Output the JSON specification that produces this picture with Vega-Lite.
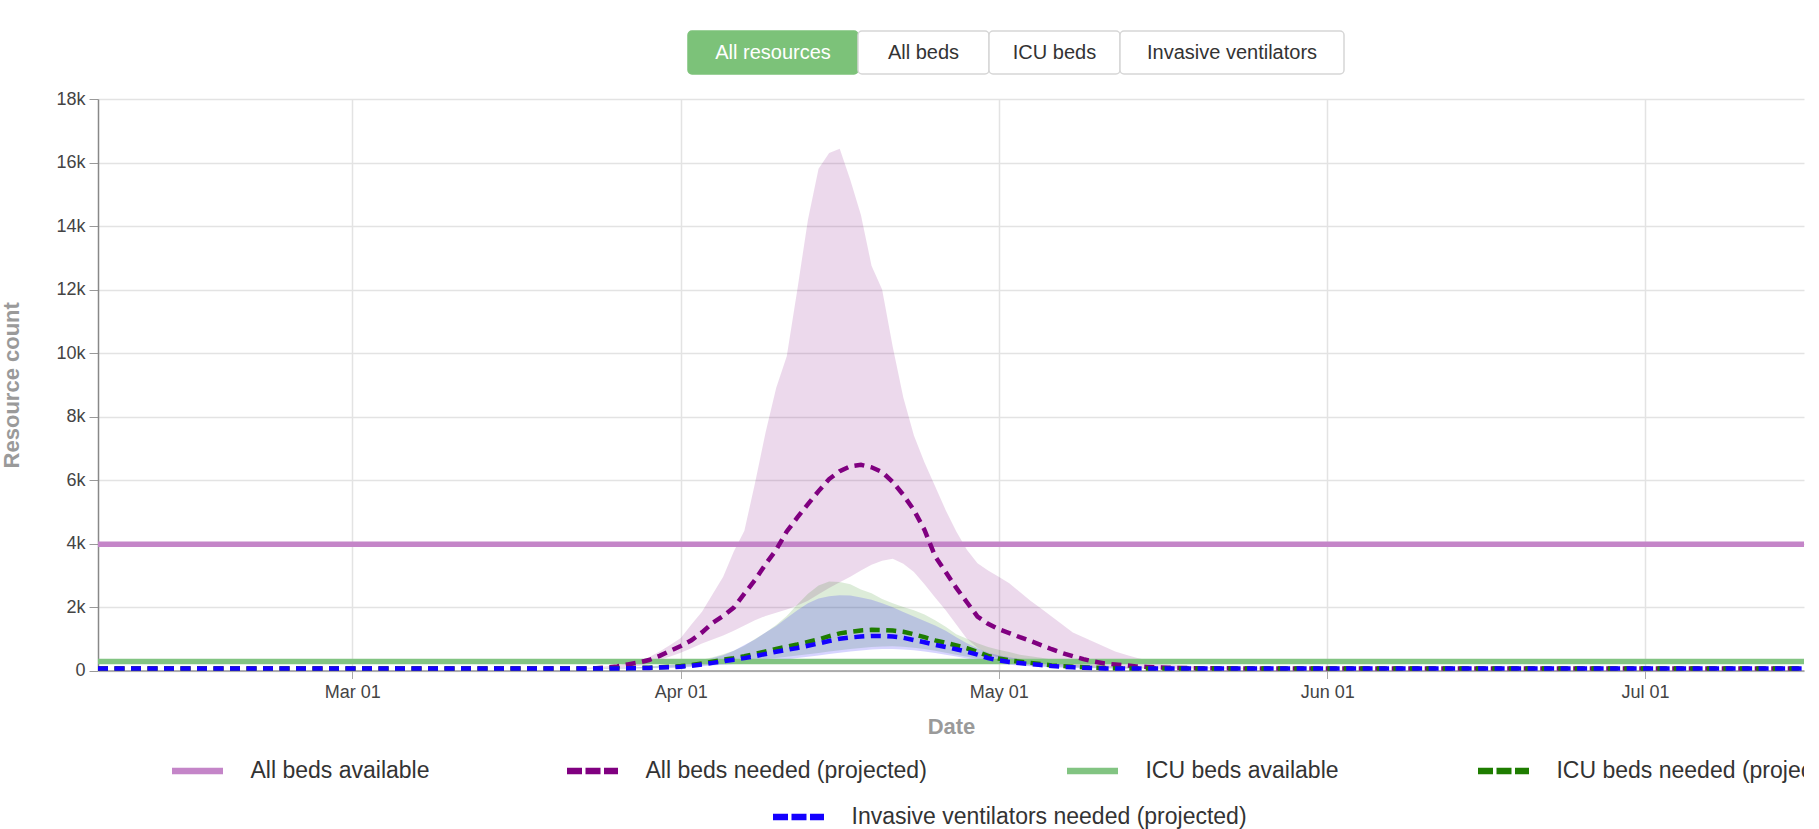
{
  "$schema": "https://vega.github.io/schema/vega-lite/v6.json",
  "padding": {"top": 30, "left": 0, "right": 0, "bottom": 0},
  "spacing": 15,
  "config": {
    "font": "Liberation Sans",
    "view": {"stroke": null}
  },
  "resolve": {"scale": {"fill": "independent", "stroke": "independent", "color": "independent", "strokeDash": "independent", "x": "independent"}},
  "datasets": {
    "buttons": [
      {"button": "All resources"},
      {"button": "All beds"},
      {"button": "ICU beds"},
      {"button": "Invasive ventilators"}
    ],
    "capacity": [
      {"resource": "All beds available", "count": 3980},
      {"resource": "ICU beds available", "count": 285}
    ],
    "legend1": [
      {"label": "All beds available"},
      {"label": "All beds needed (projected)"},
      {"label": "ICU beds available"},
      {"label": "ICU beds needed (projected)"}
    ],
    "legend2": [
      {"label": "Invasive ventilators needed (projected)"}
    ],
    "projection": [
      {"date": "2020-02-06", "beds_lo": 60, "beds_mean": 60, "beds_hi": 60, "icu_lo": 60, "icu_mean": 60, "icu_hi": 60, "vent_lo": 60, "vent_mean": 60, "vent_hi": 60},
      {"date": "2020-03-15", "beds_lo": 60, "beds_mean": 60, "beds_hi": 60, "icu_lo": 60, "icu_mean": 60, "icu_hi": 60, "vent_lo": 60, "vent_mean": 60, "vent_hi": 60},
      {"date": "2020-03-22", "beds_lo": 60, "beds_mean": 60, "beds_hi": 65, "icu_lo": 60, "icu_mean": 60, "icu_hi": 62, "vent_lo": 60, "vent_mean": 60, "vent_hi": 60},
      {"date": "2020-03-24", "beds_lo": 60, "beds_mean": 70, "beds_hi": 100, "icu_lo": 60, "icu_mean": 62, "icu_hi": 70, "vent_lo": 60, "vent_mean": 60, "vent_hi": 65},
      {"date": "2020-03-25", "beds_lo": 65, "beds_mean": 90, "beds_hi": 130, "icu_lo": 62, "icu_mean": 65, "icu_hi": 75, "vent_lo": 60, "vent_mean": 62, "vent_hi": 70},
      {"date": "2020-03-26", "beds_lo": 75, "beds_mean": 130, "beds_hi": 170, "icu_lo": 64, "icu_mean": 68, "icu_hi": 85, "vent_lo": 62, "vent_mean": 64, "vent_hi": 75},
      {"date": "2020-03-27", "beds_lo": 100, "beds_mean": 190, "beds_hi": 240, "icu_lo": 66, "icu_mean": 72, "icu_hi": 95, "vent_lo": 63, "vent_mean": 67, "vent_hi": 85},
      {"date": "2020-03-28", "beds_lo": 140, "beds_mean": 250, "beds_hi": 300, "icu_lo": 70, "icu_mean": 80, "icu_hi": 110, "vent_lo": 65, "vent_mean": 72, "vent_hi": 100},
      {"date": "2020-03-29", "beds_lo": 200, "beds_mean": 330, "beds_hi": 420, "icu_lo": 75, "icu_mean": 90, "icu_hi": 130, "vent_lo": 68, "vent_mean": 80, "vent_hi": 120},
      {"date": "2020-03-30", "beds_lo": 330, "beds_mean": 460, "beds_hi": 600, "icu_lo": 85, "icu_mean": 105, "icu_hi": 160, "vent_lo": 72, "vent_mean": 92, "vent_hi": 145},
      {"date": "2020-03-31", "beds_lo": 440, "beds_mean": 620, "beds_hi": 800, "icu_lo": 95, "icu_mean": 120, "icu_hi": 195, "vent_lo": 80, "vent_mean": 105, "vent_hi": 170},
      {"date": "2020-04-01", "beds_lo": 560, "beds_mean": 770, "beds_hi": 1020, "icu_lo": 110, "icu_mean": 140, "icu_hi": 230, "vent_lo": 90, "vent_mean": 120, "vent_hi": 200},
      {"date": "2020-04-02", "beds_lo": 700, "beds_mean": 950, "beds_hi": 1450, "icu_lo": 130, "icu_mean": 170, "icu_hi": 290, "vent_lo": 110, "vent_mean": 150, "vent_hi": 250},
      {"date": "2020-04-03", "beds_lo": 850, "beds_mean": 1200, "beds_hi": 1850, "icu_lo": 160, "icu_mean": 220, "icu_hi": 340, "vent_lo": 130, "vent_mean": 190, "vent_hi": 300},
      {"date": "2020-04-04", "beds_lo": 980, "beds_mean": 1500, "beds_hi": 2400, "icu_lo": 190, "icu_mean": 280, "icu_hi": 420, "vent_lo": 155, "vent_mean": 240, "vent_hi": 390},
      {"date": "2020-04-05", "beds_lo": 1100, "beds_mean": 1720, "beds_hi": 2950, "icu_lo": 230, "icu_mean": 340, "icu_hi": 510, "vent_lo": 180, "vent_mean": 290, "vent_hi": 480},
      {"date": "2020-04-06", "beds_lo": 1250, "beds_mean": 1980, "beds_hi": 3750, "icu_lo": 260, "icu_mean": 390, "icu_hi": 620, "vent_lo": 205, "vent_mean": 340, "vent_hi": 620},
      {"date": "2020-04-07", "beds_lo": 1420, "beds_mean": 2420, "beds_hi": 4400, "icu_lo": 290, "icu_mean": 450, "icu_hi": 780, "vent_lo": 230, "vent_mean": 390, "vent_hi": 800},
      {"date": "2020-04-08", "beds_lo": 1580, "beds_mean": 2850, "beds_hi": 5900, "icu_lo": 325, "icu_mean": 520, "icu_hi": 990, "vent_lo": 260, "vent_mean": 450, "vent_hi": 980},
      {"date": "2020-04-09", "beds_lo": 1720, "beds_mean": 3350, "beds_hi": 7500, "icu_lo": 360, "icu_mean": 600, "icu_hi": 1200, "vent_lo": 290, "vent_mean": 520, "vent_hi": 1200},
      {"date": "2020-04-10", "beds_lo": 1820, "beds_mean": 3800, "beds_hi": 8900, "icu_lo": 395, "icu_mean": 680, "icu_hi": 1430, "vent_lo": 320, "vent_mean": 590, "vent_hi": 1400},
      {"date": "2020-04-11", "beds_lo": 1920, "beds_mean": 4380, "beds_hi": 9900, "icu_lo": 430, "icu_mean": 750, "icu_hi": 1720, "vent_lo": 350, "vent_mean": 650, "vent_hi": 1650},
      {"date": "2020-04-12", "beds_lo": 2050, "beds_mean": 4820, "beds_hi": 12000, "icu_lo": 470, "icu_mean": 820, "icu_hi": 2080, "vent_lo": 390, "vent_mean": 710, "vent_hi": 1900},
      {"date": "2020-04-13", "beds_lo": 2200, "beds_mean": 5240, "beds_hi": 14200, "icu_lo": 510, "icu_mean": 900, "icu_hi": 2420, "vent_lo": 430, "vent_mean": 780, "vent_hi": 2120},
      {"date": "2020-04-14", "beds_lo": 2400, "beds_mean": 5650, "beds_hi": 15800, "icu_lo": 555, "icu_mean": 980, "icu_hi": 2680, "vent_lo": 475, "vent_mean": 850, "vent_hi": 2270},
      {"date": "2020-04-15", "beds_lo": 2600, "beds_mean": 6030, "beds_hi": 16300, "icu_lo": 600, "icu_mean": 1080, "icu_hi": 2800, "vent_lo": 520, "vent_mean": 930, "vent_hi": 2340},
      {"date": "2020-04-16", "beds_lo": 2780, "beds_mean": 6280, "beds_hi": 16430, "icu_lo": 640, "icu_mean": 1170, "icu_hi": 2790, "vent_lo": 560, "vent_mean": 1000, "vent_hi": 2370},
      {"date": "2020-04-17", "beds_lo": 2950, "beds_mean": 6430, "beds_hi": 15450, "icu_lo": 680, "icu_mean": 1220, "icu_hi": 2720, "vent_lo": 600, "vent_mean": 1040, "vent_hi": 2360},
      {"date": "2020-04-18", "beds_lo": 3150, "beds_mean": 6480, "beds_hi": 14350, "icu_lo": 710, "icu_mean": 1260, "icu_hi": 2550, "vent_lo": 630, "vent_mean": 1070, "vent_hi": 2300},
      {"date": "2020-04-19", "beds_lo": 3330, "beds_mean": 6400, "beds_hi": 12750, "icu_lo": 740, "icu_mean": 1280, "icu_hi": 2430, "vent_lo": 660, "vent_mean": 1090, "vent_hi": 2230},
      {"date": "2020-04-20", "beds_lo": 3460, "beds_mean": 6250, "beds_hi": 12000, "icu_lo": 755, "icu_mean": 1275, "icu_hi": 2250, "vent_lo": 675, "vent_mean": 1085, "vent_hi": 2120},
      {"date": "2020-04-21", "beds_lo": 3520, "beds_mean": 5940, "beds_hi": 10200, "icu_lo": 760, "icu_mean": 1260, "icu_hi": 2120, "vent_lo": 680, "vent_mean": 1070, "vent_hi": 1990},
      {"date": "2020-04-22", "beds_lo": 3360, "beds_mean": 5530, "beds_hi": 8600, "icu_lo": 745, "icu_mean": 1220, "icu_hi": 2000, "vent_lo": 665, "vent_mean": 1030, "vent_hi": 1840},
      {"date": "2020-04-23", "beds_lo": 3100, "beds_mean": 5050, "beds_hi": 7400, "icu_lo": 720, "icu_mean": 1140, "icu_hi": 1900, "vent_lo": 640, "vent_mean": 960, "vent_hi": 1700},
      {"date": "2020-04-24", "beds_lo": 2720, "beds_mean": 4430, "beds_hi": 6550, "icu_lo": 680, "icu_mean": 1050, "icu_hi": 1760, "vent_lo": 600, "vent_mean": 890, "vent_hi": 1560},
      {"date": "2020-04-25", "beds_lo": 2300, "beds_mean": 3600, "beds_hi": 5800, "icu_lo": 620, "icu_mean": 950, "icu_hi": 1580, "vent_lo": 550, "vent_mean": 810, "vent_hi": 1420},
      {"date": "2020-04-26", "beds_lo": 1900, "beds_mean": 3100, "beds_hi": 5050, "icu_lo": 560, "icu_mean": 870, "icu_hi": 1380, "vent_lo": 495, "vent_mean": 740, "vent_hi": 1250},
      {"date": "2020-04-27", "beds_lo": 1450, "beds_mean": 2600, "beds_hi": 4380, "icu_lo": 500, "icu_mean": 790, "icu_hi": 1140, "vent_lo": 440, "vent_mean": 670, "vent_hi": 1050},
      {"date": "2020-04-28", "beds_lo": 1000, "beds_mean": 2150, "beds_hi": 3800, "icu_lo": 435, "icu_mean": 700, "icu_hi": 1000, "vent_lo": 380, "vent_mean": 590, "vent_hi": 860},
      {"date": "2020-04-29", "beds_lo": 720, "beds_mean": 1700, "beds_hi": 3380, "icu_lo": 370, "icu_mean": 590, "icu_hi": 860, "vent_lo": 320, "vent_mean": 500, "vent_hi": 700},
      {"date": "2020-04-30", "beds_lo": 520, "beds_mean": 1470, "beds_hi": 3150, "icu_lo": 310, "icu_mean": 460, "icu_hi": 740, "vent_lo": 270, "vent_mean": 390, "vent_hi": 560},
      {"date": "2020-05-01", "beds_lo": 400, "beds_mean": 1300, "beds_hi": 2950, "icu_lo": 260, "icu_mean": 380, "icu_hi": 650, "vent_lo": 220, "vent_mean": 320, "vent_hi": 480},
      {"date": "2020-05-02", "beds_lo": 340, "beds_mean": 1180, "beds_hi": 2750, "icu_lo": 220, "icu_mean": 320, "icu_hi": 580, "vent_lo": 185, "vent_mean": 270, "vent_hi": 420},
      {"date": "2020-05-03", "beds_lo": 280, "beds_mean": 1050, "beds_hi": 2470, "icu_lo": 180, "icu_mean": 280, "icu_hi": 500, "vent_lo": 150, "vent_mean": 235, "vent_hi": 360},
      {"date": "2020-05-04", "beds_lo": 240, "beds_mean": 930, "beds_hi": 2200, "icu_lo": 155, "icu_mean": 240, "icu_hi": 450, "vent_lo": 130, "vent_mean": 200, "vent_hi": 310},
      {"date": "2020-05-05", "beds_lo": 210, "beds_mean": 800, "beds_hi": 1950, "icu_lo": 135, "icu_mean": 200, "icu_hi": 400, "vent_lo": 115, "vent_mean": 170, "vent_hi": 270},
      {"date": "2020-05-06", "beds_lo": 180, "beds_mean": 670, "beds_hi": 1700, "icu_lo": 120, "icu_mean": 160, "icu_hi": 350, "vent_lo": 100, "vent_mean": 140, "vent_hi": 230},
      {"date": "2020-05-07", "beds_lo": 160, "beds_mean": 550, "beds_hi": 1450, "icu_lo": 105, "icu_mean": 140, "icu_hi": 300, "vent_lo": 90, "vent_mean": 120, "vent_hi": 200},
      {"date": "2020-05-08", "beds_lo": 140, "beds_mean": 450, "beds_hi": 1200, "icu_lo": 95, "icu_mean": 120, "icu_hi": 260, "vent_lo": 80, "vent_mean": 100, "vent_hi": 170},
      {"date": "2020-05-09", "beds_lo": 125, "beds_mean": 360, "beds_hi": 1050, "icu_lo": 85, "icu_mean": 100, "icu_hi": 220, "vent_lo": 72, "vent_mean": 85, "vent_hi": 140},
      {"date": "2020-05-10", "beds_lo": 110, "beds_mean": 280, "beds_hi": 900, "icu_lo": 78, "icu_mean": 85, "icu_hi": 190, "vent_lo": 68, "vent_mean": 75, "vent_hi": 120},
      {"date": "2020-05-11", "beds_lo": 100, "beds_mean": 220, "beds_hi": 750, "icu_lo": 72, "icu_mean": 75, "icu_hi": 160, "vent_lo": 64, "vent_mean": 65, "vent_hi": 100},
      {"date": "2020-05-12", "beds_lo": 90, "beds_mean": 190, "beds_hi": 600, "icu_lo": 68, "icu_mean": 70, "icu_hi": 135, "vent_lo": 62, "vent_mean": 62, "vent_hi": 88},
      {"date": "2020-05-13", "beds_lo": 82, "beds_mean": 160, "beds_hi": 500, "icu_lo": 65, "icu_mean": 66, "icu_hi": 115, "vent_lo": 60, "vent_mean": 60, "vent_hi": 80},
      {"date": "2020-05-14", "beds_lo": 76, "beds_mean": 130, "beds_hi": 400, "icu_lo": 62, "icu_mean": 63, "icu_hi": 100, "vent_lo": 60, "vent_mean": 60, "vent_hi": 72},
      {"date": "2020-05-15", "beds_lo": 72, "beds_mean": 110, "beds_hi": 320, "icu_lo": 61, "icu_mean": 62, "icu_hi": 88, "vent_lo": 60, "vent_mean": 60, "vent_hi": 66},
      {"date": "2020-05-16", "beds_lo": 68, "beds_mean": 95, "beds_hi": 260, "icu_lo": 60, "icu_mean": 61, "icu_hi": 78, "vent_lo": 60, "vent_mean": 60, "vent_hi": 62},
      {"date": "2020-05-17", "beds_lo": 65, "beds_mean": 85, "beds_hi": 200, "icu_lo": 60, "icu_mean": 60, "icu_hi": 70, "vent_lo": 60, "vent_mean": 60, "vent_hi": 60},
      {"date": "2020-05-19", "beds_lo": 62, "beds_mean": 75, "beds_hi": 140, "icu_lo": 60, "icu_mean": 60, "icu_hi": 64, "vent_lo": 60, "vent_mean": 60, "vent_hi": 60},
      {"date": "2020-05-21", "beds_lo": 60, "beds_mean": 70, "beds_hi": 100, "icu_lo": 60, "icu_mean": 60, "icu_hi": 60, "vent_lo": 60, "vent_mean": 60, "vent_hi": 60},
      {"date": "2020-05-26", "beds_lo": 60, "beds_mean": 62, "beds_hi": 70, "icu_lo": 60, "icu_mean": 60, "icu_hi": 60, "vent_lo": 60, "vent_mean": 60, "vent_hi": 60},
      {"date": "2020-06-01", "beds_lo": 60, "beds_mean": 60, "beds_hi": 60, "icu_lo": 60, "icu_mean": 60, "icu_hi": 60, "vent_lo": 60, "vent_mean": 60, "vent_hi": 60},
      {"date": "2020-07-16", "beds_lo": 60, "beds_mean": 60, "beds_hi": 60, "icu_lo": 60, "icu_mean": 60, "icu_hi": 60, "vent_lo": 60, "vent_mean": 60, "vent_hi": 60}
    ]
  },
  "vconcat": [
    {
      "width": 1706,
      "height": 43,
      "data": {"name": "buttons"},
      "resolve": {"scale": {"x": "independent"}},
      "layer": [
        {
          "transform": [{"filter": {"field": "button", "equal": "All resources"}}],
          "encoding": {
            "x": {"field": "button", "type": "nominal", "sort": null, "axis": null,
                  "scale": {"type": "band", "paddingInner": 0, "paddingOuter": 0, "range": [590, 760]}}
          },
          "layer": [
            {
              "mark": {"type": "rect", "cornerRadius": 4, "strokeWidth": 1.5},
              "encoding": {
                "fill": {"field": "button", "type": "nominal", "legend": null,
                         "scale": {"domain": ["All resources", "All beds", "ICU beds", "Invasive ventilators"], "range": ["#7cc279", "#ffffff", "#ffffff", "#ffffff"]}},
                "stroke": {"field": "button", "type": "nominal", "legend": null,
                           "scale": {"domain": ["All resources", "All beds", "ICU beds", "Invasive ventilators"], "range": ["#7cc279", "#d6d6d6", "#d6d6d6", "#d6d6d6"]}}
              }
            },
            {
              "mark": {"type": "text", "fontSize": 20},
              "encoding": {
                "text": {"field": "button"},
                "color": {"field": "button", "type": "nominal", "legend": null,
                          "scale": {"domain": ["All resources", "All beds", "ICU beds", "Invasive ventilators"], "range": ["#ffffff", "#333333", "#333333", "#333333"]}}
              }
            }
          ]
        },
        {
          "transform": [{"filter": {"field": "button", "oneOf": ["All beds", "ICU beds"]}}],
          "encoding": {
            "x": {"field": "button", "type": "nominal", "sort": null, "axis": null,
                  "scale": {"type": "band", "paddingInner": 0, "paddingOuter": 0, "range": [760, 1022]}}
          },
          "layer": [
            {
              "mark": {"type": "rect", "cornerRadius": 4, "strokeWidth": 1.5},
              "encoding": {
                "fill": {"field": "button", "type": "nominal", "legend": null,
                         "scale": {"domain": ["All resources", "All beds", "ICU beds", "Invasive ventilators"], "range": ["#7cc279", "#ffffff", "#ffffff", "#ffffff"]}},
                "stroke": {"field": "button", "type": "nominal", "legend": null,
                           "scale": {"domain": ["All resources", "All beds", "ICU beds", "Invasive ventilators"], "range": ["#7cc279", "#d6d6d6", "#d6d6d6", "#d6d6d6"]}}
              }
            },
            {
              "mark": {"type": "text", "fontSize": 20},
              "encoding": {
                "text": {"field": "button"},
                "color": {"field": "button", "type": "nominal", "legend": null,
                          "scale": {"domain": ["All resources", "All beds", "ICU beds", "Invasive ventilators"], "range": ["#ffffff", "#333333", "#333333", "#333333"]}}
              }
            }
          ]
        },
        {
          "transform": [{"filter": {"field": "button", "equal": "Invasive ventilators"}}],
          "encoding": {
            "x": {"field": "button", "type": "nominal", "sort": null, "axis": null,
                  "scale": {"type": "band", "paddingInner": 0, "paddingOuter": 0, "range": [1022, 1246]}}
          },
          "layer": [
            {
              "mark": {"type": "rect", "cornerRadius": 4, "strokeWidth": 1.5},
              "encoding": {
                "fill": {"field": "button", "type": "nominal", "legend": null,
                         "scale": {"domain": ["All resources", "All beds", "ICU beds", "Invasive ventilators"], "range": ["#7cc279", "#ffffff", "#ffffff", "#ffffff"]}},
                "stroke": {"field": "button", "type": "nominal", "legend": null,
                           "scale": {"domain": ["All resources", "All beds", "ICU beds", "Invasive ventilators"], "range": ["#7cc279", "#d6d6d6", "#d6d6d6", "#d6d6d6"]}}
              }
            },
            {
              "mark": {"type": "text", "fontSize": 20},
              "encoding": {
                "text": {"field": "button"},
                "color": {"field": "button", "type": "nominal", "legend": null,
                          "scale": {"domain": ["All resources", "All beds", "ICU beds", "Invasive ventilators"], "range": ["#ffffff", "#333333", "#333333", "#333333"]}}
              }
            }
          ]
        }
      ]
    },
    {
      "width": 1706,
      "height": 571.5,
      "layer": [
        {
          "data": {"name": "projection"},
          "mark": {"type": "area", "color": "#800080", "opacity": 0.15},
          "encoding": {
            "x": {"field": "date", "type": "temporal", "title": "Date",
                  "scale": {"type": "utc", "domain": [{"year": 2020, "month": 2, "date": 6, "utc": true}, {"year": 2020, "month": 7, "date": 16, "utc": true}]},
                  "axis": {"labelExpr": "utcFormat(datum.value, '%b %d')", "tickCount": {"interval": "month", "step": 1},
                           "labelFontSize": 18, "labelColor": "#444444", "labelPadding": 5, "labelFlush": false,
                           "tickSize": 8, "tickColor": "#aaaaaa", "domainColor": "#999999", "domainWidth": 1.5,
                           "gridColor": "#e3e3e3", "gridWidth": 1.5,
                           "titleFontSize": 22, "titleFontWeight": "bold", "titleColor": "#9a9a9a", "titlePadding": 15}},
            "y": {"field": "beds_lo", "type": "quantitative", "title": "Resource count",
                  "scale": {"domain": [0, 18000], "nice": false},
                  "axis": {"values": [0, 2000, 4000, 6000, 8000, 10000, 12000, 14000, 16000, 18000],
                           "labelExpr": "datum.value === 0 ? '0' : format(datum.value, '~s')",
                           "labelFontSize": 18, "labelColor": "#444444", "labelPadding": 4,
                           "tickSize": 9, "tickColor": "#999999", "domainColor": "#888888", "domainWidth": 1.5,
                           "gridColor": "#e3e3e3", "gridWidth": 1.5,
                           "titleFontSize": 22, "titleFontWeight": "bold", "titleColor": "#9a9a9a", "titlePadding": 32}},
            "y2": {"field": "beds_hi", "title": "Resource count"}
          }
        },
        {
          "data": {"name": "projection"},
          "mark": {"type": "area", "color": "#1e7d00", "opacity": 0.15},
          "encoding": {
            "x": {"field": "date", "type": "temporal", "title": "Date"},
            "y": {"field": "icu_lo", "type": "quantitative", "title": "Resource count"},
            "y2": {"field": "icu_hi", "title": "Resource count"}
          }
        },
        {
          "data": {"name": "projection"},
          "mark": {"type": "area", "color": "#1400ff", "opacity": 0.17},
          "encoding": {
            "x": {"field": "date", "type": "temporal", "title": "Date"},
            "y": {"field": "vent_lo", "type": "quantitative", "title": "Resource count"},
            "y2": {"field": "vent_hi", "title": "Resource count"}
          }
        },
        {
          "data": {"name": "capacity"},
          "mark": {"type": "rule", "strokeWidth": 5.5},
          "encoding": {
            "y": {"field": "count", "type": "quantitative", "title": "Resource count"},
            "stroke": {"field": "resource", "type": "nominal", "legend": null,
                       "scale": {"domain": ["All beds available", "ICU beds available"], "range": ["#c485c8", "#82c482"]}}
          }
        },
        {
          "data": {"name": "projection"},
          "mark": {"type": "line", "color": "#800080", "strokeWidth": 4.5, "strokeDash": [10, 6.5]},
          "encoding": {
            "x": {"field": "date", "type": "temporal", "title": "Date"},
            "y": {"field": "beds_mean", "type": "quantitative", "title": "Resource count"}
          }
        },
        {
          "data": {"name": "projection"},
          "mark": {"type": "line", "color": "#1e7d00", "strokeWidth": 4.5, "strokeDash": [10, 6.5]},
          "encoding": {
            "x": {"field": "date", "type": "temporal", "title": "Date"},
            "y": {"field": "icu_mean", "type": "quantitative", "title": "Resource count"}
          }
        },
        {
          "data": {"name": "projection"},
          "mark": {"type": "line", "color": "#1400ff", "strokeWidth": 4.5, "strokeDash": [10, 6.5]},
          "encoding": {
            "x": {"field": "date", "type": "temporal", "title": "Date"},
            "y": {"field": "vent_mean", "type": "quantitative", "title": "Resource count"}
          }
        }
      ]
    },
    {
      "width": 1706,
      "height": 36,
      "data": {"name": "legend1"},
      "resolve": {"scale": {"x": "independent"}},
      "layer": [
        {
          "transform": [{"filter": {"field": "label", "oneOf": ["All beds available", "All beds needed (projected)"]}}],
          "layer": [
            {
              "mark": {"type": "point", "shape": "M-1,0H1", "size": 2601, "strokeWidth": 6.5, "filled": false, "opacity": 1, "clip": true},
              "encoding": {
                "x": {"field": "label", "type": "nominal", "sort": null, "axis": null, "bandPosition": 0.2519,
                      "scale": {"type": "band", "paddingInner": 0, "paddingOuter": 0, "range": [0, 790]}},
                "stroke": {"field": "label", "type": "nominal", "legend": null,
                           "scale": {"domain": ["All beds available", "All beds needed (projected)", "ICU beds available", "ICU beds needed (projected)"],
                                     "range": ["#c485c8", "#800080", "#82c482", "#1e7d00"]}},
                "strokeDash": {"field": "label", "type": "nominal", "legend": null,
                               "scale": {"domain": ["All beds available", "All beds needed (projected)", "ICU beds available", "ICU beds needed (projected)"],
                                         "range": [[1, 0], [15, 3.5], [1, 0], [15, 3.5]]}}
              }
            },
            {
              "mark": {"type": "text", "align": "left", "fontSize": 23, "color": "#333333", "clip": true},
              "encoding": {
                "x": {"field": "label", "type": "nominal", "sort": null, "axis": null, "bandPosition": 0.3861},
                "text": {"field": "label"}
              }
            }
          ]
        },
        {
          "transform": [{"filter": {"field": "label", "oneOf": ["ICU beds available", "ICU beds needed (projected)"]}}],
          "layer": [
            {
              "mark": {"type": "point", "shape": "M-1,0H1", "size": 2601, "strokeWidth": 6.5, "filled": false, "opacity": 1, "clip": true},
              "encoding": {
                "x": {"field": "label", "type": "nominal", "sort": null, "axis": null, "bandPosition": 0.2421,
                      "scale": {"type": "band", "paddingInner": 0, "paddingOuter": 0, "range": [895, 1717]}},
                "stroke": {"field": "label", "type": "nominal", "legend": null,
                           "scale": {"domain": ["All beds available", "All beds needed (projected)", "ICU beds available", "ICU beds needed (projected)"],
                                     "range": ["#c485c8", "#800080", "#82c482", "#1e7d00"]}},
                "strokeDash": {"field": "label", "type": "nominal", "legend": null,
                               "scale": {"domain": ["All beds available", "All beds needed (projected)", "ICU beds available", "ICU beds needed (projected)"],
                                         "range": [[1, 0], [15, 3.5], [1, 0], [15, 3.5]]}}
              }
            },
            {
              "mark": {"type": "text", "align": "left", "fontSize": 23, "color": "#333333", "clip": true},
              "encoding": {
                "x": {"field": "label", "type": "nominal", "sort": null, "axis": null, "bandPosition": 0.3710},
                "text": {"field": "label"}
              }
            }
          ]
        }
      ]
    },
    {
      "width": 1706,
      "height": 24,
      "data": {"name": "legend2"},
      "layer": [
        {
          "mark": {"type": "point", "shape": "M-1,0H1", "size": 2601, "strokeWidth": 6.5, "filled": false, "opacity": 1, "strokeDash": [15, 3.5], "color": "#1400ff"},
          "encoding": {
            "x": {"field": "label", "type": "nominal", "sort": null, "axis": null, "bandPosition": 0.2578,
                  "scale": {"type": "band", "paddingInner": 0, "paddingOuter": 0, "range": [586.6, 1028.4]}}
          }
        },
        {
          "mark": {"type": "text", "align": "left", "fontSize": 23, "color": "#333333"},
          "encoding": {
            "x": {"field": "label", "type": "nominal", "sort": null, "axis": null, "bandPosition": 0.3778},
            "text": {"field": "label"}
          }
        }
      ]
    }
  ]
}
